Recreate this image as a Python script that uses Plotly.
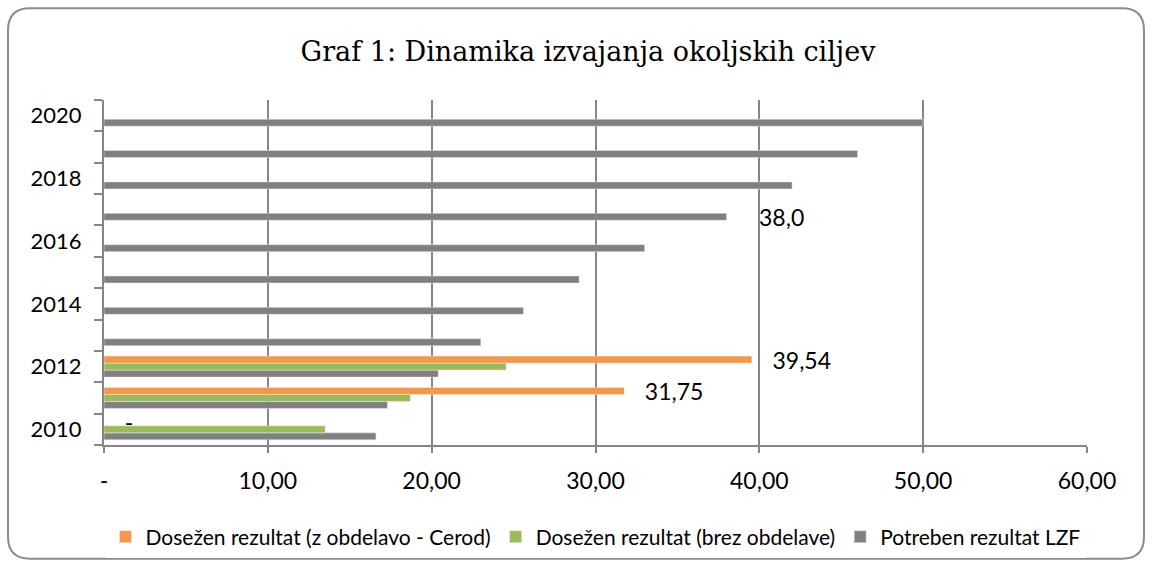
import plotly.graph_objects as go

years = ["2010", "2011", "2012", "2013", "2014", "2015", "2016", "2017", "2018", "2019", "2020"]
year_labels = ["2010", "", "2012", "", "2014", "", "2016", "", "2018", "", "2020"]
potreben = [16.6, 17.3, 20.4, 23.0, 25.6, 29.0, 33.0, 38.0, 42.0, 46.0, 50.0]
brez = [13.5, 18.7, 24.55, None, None, None, None, None, None, None, None]
cerod = [0.0, 31.75, 39.54, None, None, None, None, None, None, None, None]
cerod_labels = ["   -", "   31,75", "   39,54", "", "", "", "", "", "", "", ""]
potreben_labels = ["", "", "", "", "", "", "", "     38,0", "", "", ""]
x_ticks = [0, 10, 20, 30, 40, 50, 60]
x_tick_text = ["-", "10,00", "20,00", "30,00", "40,00", "50,00", "60,00"]

FONT = "Lato, Open Sans, sans-serif"
fig = go.Figure()
fig.add_trace(go.Bar(
    y=years, x=potreben, orientation="h", name="Potreben rezultat LZF",
    marker=dict(color="#808080"), text=potreben_labels, textposition="outside",
    textfont=dict(size=23, color="#000000", family=FONT), cliponaxis=False,
    constraintext="none", legendrank=3))
fig.add_trace(go.Bar(
    y=years, x=brez, orientation="h", name="Dosežen rezultat (brez obdelave)",
    marker=dict(color="#9BBB59"), legendrank=2))
fig.add_trace(go.Bar(
    y=years, x=cerod, orientation="h", name="Dosežen rezultat (z obdelavo - Cerod)",
    marker=dict(color="#F79646"), text=cerod_labels, textposition="outside",
    textfont=dict(size=23, color="#000000", family=FONT), cliponaxis=False,
    constraintext="none", legendrank=1))

L, R, T, B = 104, 65, 100, 122
W, H = 1152, 568
pw, ph = W - L - R, H - T - B

def px(x):
    return (x - L) / pw

def py(y):
    return 1 - (y - T) / ph

x0, x1, y0, y1, r = 8, 1144, 8, 560, 22
path = (f"M {px(x0 + r)},{py(y0)} L {px(x1 - r)},{py(y0)} "
        f"Q {px(x1)},{py(y0)} {px(x1)},{py(y0 + r)} "
        f"L {px(x1)},{py(y1 - r)} Q {px(x1)},{py(y1)} {px(x1 - r)},{py(y1)} "
        f"L {px(x0 + r)},{py(y1)} Q {px(x0)},{py(y1)} {px(x0)},{py(y1 - r)} "
        f"L {px(x0)},{py(y0 + r)} Q {px(x0)},{py(y0)} {px(x0 + r)},{py(y0)} Z")

fig.update_layout(
    width=W, height=H,
    margin=dict(l=L, r=R, t=T, b=B),
    paper_bgcolor="white", plot_bgcolor="white",
    barmode="group", bargap=0.33, bargroupgap=0,
    title=dict(text="Graf 1: Dinamika izvajanja okoljskih ciljev",
               x=588 / W, xanchor="center", y=1 - 52 / H, yanchor="middle",
               font=dict(family="DejaVu Serif, serif", size=27, color="#000000")),
    legend=dict(orientation="h", x=0.5, xanchor="center", y=py(537), yanchor="middle",
                font=dict(family=FONT, size=21, color="#000000"),
                itemwidth=30, traceorder="normal"),
    shapes=[dict(type="path", xref="paper", yref="paper", path=path,
                 line=dict(color="#8C8C8C", width=2), layer="below")],
    font=dict(family=FONT, color="#000000"),
)
fig.update_xaxes(range=[0, 60], tickvals=x_ticks, ticktext=x_tick_text,
                 showgrid=True, gridcolor="#868686", gridwidth=1.5,
                 showline=True, linecolor="#868686", linewidth=2,
                 ticks="outside", ticklen=6, tickcolor="#868686", tickwidth=2,
                 ticklabelstandoff=8,
                 tickfont=dict(size=23, family=FONT, color="#000000"), zeroline=False)
fig.update_yaxes(type="category", categoryorder="array", categoryarray=years,
                 tickmode="array", tickvals=years, ticktext=year_labels,
                 tickson="boundaries", ticks="outside", ticklen=8, tickcolor="#868686",
                 tickwidth=2, showline=True, linecolor="#868686", linewidth=2,
                 ticklabelstandoff=16,
                 showgrid=False, tickfont=dict(size=22, family=FONT, color="#000000"))

fig.write_html("out.html", post_script="document.body.style.margin='0';",
               config={"displayModeBar": False})
